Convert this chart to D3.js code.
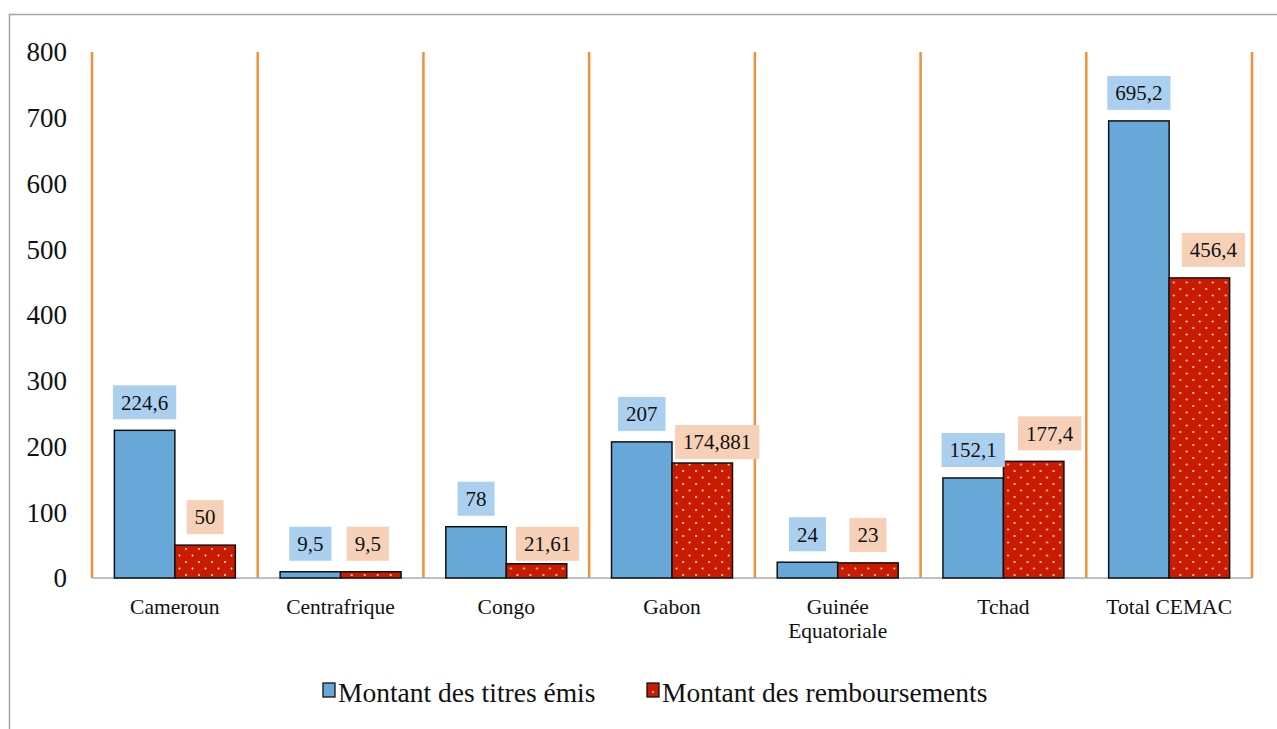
<!DOCTYPE html>
<html>
<head>
<meta charset="utf-8">
<script src="https://cdn.jsdelivr.net/npm/d3@7"></script>
<style>
    body { margin: 0; background: #fff; }
    svg { display: block; font-family: "Liberation Serif", "Times New Roman", serif; }
</style>
</head>
<body>
<div id="chart"></div>
<script>
// Données (en milliards)
const categories = ["Cameroun", "Centrafrique", "Congo", "Gabon", "Guinée\nEquatoriale", "Tchad", "Total CEMAC"];
const titresEmis = [224.6, 9.5, 78, 207, 24, 152.1, 695.2];
const remboursements = [50, 9.5, 21.61, 174.881, 23, 177.4, 456.4];
const labelsEmis = ["224,6", "9,5", "78", "207", "24", "152,1", "695,2"];
const labelsRemb = ["50", "9,5", "21,61", "174,881", "23", "177,4", "456,4"];
const yTicks = [0, 100, 200, 300, 400, 500, 600, 700, 800];
const seriesNames = ["Montant des titres émis", "Montant des remboursements"];

// décalage manuel des étiquettes rouges (comme dans l'original)
const nudgeRemb = [[0, 0], [-3, 0], [11, 8], [15, 7], [0, 0], [16, 0], [14, 0]];

const COLOR_BLUE = "#68a8d9", COLOR_RED = "#c81b00",
    COLOR_BLUE_LABEL = "#abd0ef", COLOR_RED_LABEL = "#f7d0b8",
    COLOR_ORANGE = "#f0913a";

const W = 1277, H = 729;
const svg = d3.select("#chart").append("svg").attr("width", W).attr("height", H);

// motif à pois blancs
const pat = svg.append("defs").append("pattern")
    .attr("id", "dots").attr("patternUnits", "userSpaceOnUse")
    .attr("width", 13).attr("height", 13);
pat.append("rect").attr("width", 13).attr("height", 13).attr("fill", COLOR_RED);
pat.append("circle").attr("cx", 3).attr("cy", 3).attr("r", 0.9).attr("fill", "#fff");
pat.append("circle").attr("cx", 9.5).attr("cy", 9.5).attr("r", 0.9).attr("fill", "#fff");

// cadre
svg.append("rect").attr("x", 9.5).attr("y", 14.5).attr("width", 1400).attr("height", 900)
    .attr("fill", "none").attr("stroke", "#a3a3a3").attr("stroke-width", 1.5);

const x = d3.scaleBand().domain(categories).range([92, 1252]).padding(0);
const xSub = d3.scaleBand().domain(["emis", "remb"]).range([0, x.bandwidth()])
    .paddingInner(0).paddingOuter(0.37);
const y = d3.scaleLinear().domain([0, 800]).range([578, 52]);

// axe Y (labels uniquement)
svg.append("g").selectAll("text").data(yTicks).enter().append("text")
    .attr("x", 67).attr("y", d => y(d)).attr("dy", "0.35em")
    .attr("text-anchor", "end").attr("font-size", 27).attr("fill", "#111")
    .text(d => d);

// lignes verticales orange
const bounds = categories.map(c => x(c)).concat([x.range()[1]]);
svg.append("g").selectAll("line").data(bounds).enter().append("line")
    .attr("x1", d => d).attr("x2", d => d)
    .attr("y1", y(800)).attr("y2", y(0))
    .attr("stroke", COLOR_ORANGE).attr("stroke-width", 2.5);

// ligne de base
svg.append("line").attr("x1", 92).attr("x2", 1252).attr("y1", y(0)).attr("y2", y(0))
    .attr("stroke", "#ababab").attr("stroke-width", 1.5);

// barres
const groups = svg.append("g").selectAll("g").data(categories).enter().append("g")
    .attr("transform", d => `translate(${x(d)},0)`);

groups.append("rect")
    .attr("x", xSub("emis")).attr("width", xSub.bandwidth())
    .attr("y", (d, i) => y(titresEmis[i])).attr("height", (d, i) => y(0) - y(titresEmis[i]))
    .attr("fill", COLOR_BLUE).attr("stroke", "#111").attr("stroke-width", 1.5);

groups.append("rect")
    .attr("x", xSub("remb")).attr("width", xSub.bandwidth())
    .attr("y", (d, i) => y(remboursements[i])).attr("height", (d, i) => y(0) - y(remboursements[i]))
    .attr("fill", "url(#dots)").attr("stroke", "#111").attr("stroke-width", 1.5);

// étiquettes de données
function addLabel(g, cx, barTop, text, fill) {
    const lab = g.append("g");
    const box = lab.append("rect").attr("fill", fill);
    const t = lab.append("text").attr("text-anchor", "middle")
        .attr("font-size", 21).attr("fill", "#111").text(text);
    const w = t.node().getComputedTextLength() + 16, h = 34;
    const bottom = barTop - 11;
    box.attr("x", cx - w / 2).attr("y", bottom - h).attr("width", w).attr("height", h);
    t.attr("x", cx).attr("y", bottom - h / 2).attr("dy", "0.35em");
}

groups.each(function(d, i) {
    const g = d3.select(this);
    addLabel(g, xSub("emis") + xSub.bandwidth() / 2, y(titresEmis[i]), labelsEmis[i], COLOR_BLUE_LABEL);
    const [dx, dy] = nudgeRemb[i];
    addLabel(g, xSub("remb") + xSub.bandwidth() / 2 + dx, y(remboursements[i]) + dy, labelsRemb[i], COLOR_RED_LABEL);
});

// étiquettes de catégories
groups.append("text")
    .attr("text-anchor", "middle").attr("font-size", 21.5).attr("fill", "#111")
    .each(function(d) {
        const lines = d.split("\n");
        d3.select(this).selectAll("tspan").data(lines).enter().append("tspan")
            .attr("x", x.bandwidth() / 2)
            .attr("y", (l, j) => 614 + j * 24)
            .text(l => l);
    });

// légende
const legend = svg.append("g");
const legendItems = [
    { name: seriesNames[0], fill: COLOR_BLUE, x: 323 },
    { name: seriesNames[1], fill: "url(#dots)", x: 647 }
];
legendItems.forEach(item => {
    legend.append("rect").attr("x", item.x).attr("y", 683).attr("width", 12).attr("height", 14)
        .attr("fill", item.fill).attr("stroke", "#111").attr("stroke-width", 1.3);
    legend.append("text").attr("x", item.x + 15).attr("y", 702)
        .attr("font-size", 27.5).attr("fill", "#111").text(item.name);
});
</script>
</body>
</html>
